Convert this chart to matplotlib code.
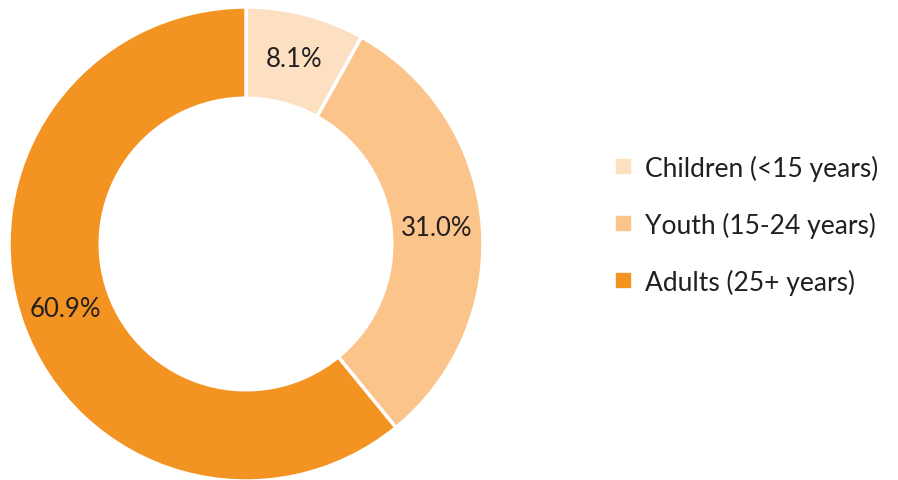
import matplotlib.pyplot as plt
from matplotlib.lines import Line2D
import numpy as np

plt.rcParams['font.family'] = ['Lato', 'DejaVu Sans']

labels = ['Children (<15 years)', 'Youth (15-24 years)', 'Adults (25+ years)']
shares = [8.1, 31.0, 60.9]
colors = ['#FDDFC2', '#FBC48B', '#F39322']

fig = plt.figure(figsize=(8.98, 4.81), dpi=100)
ax = fig.add_axes([9 / 898, -1 / 481, 474 / 898, 474 / 481])

wedges, texts = ax.pie(shares, colors=colors, startangle=90, counterclock=False,
                       radius=1, wedgeprops=dict(width=0.385, edgecolor='white', linewidth=2.5))

# percentage labels in the middle of the ring
ang = 90 - np.cumsum([0] + shares[:-1]) * 3.6 - np.array(shares) * 1.8
r = 0.808
for a, s in zip(ang, shares):
    ax.text(r * np.cos(np.radians(a)), r * np.sin(np.radians(a)), f'{s:.1f}%',
            ha='center', va='center', fontsize=18.5, color='#231F20')
ax.set_xlim(-1, 1)
ax.set_ylim(-1, 1)
ax.set_aspect('equal')
ax.axis('off')

handles = [Line2D([], [], marker='s', linestyle='none', markersize=10,
                  markerfacecolor=c, markeredgecolor=c) for c in colors]
fig.legend(handles, labels, loc='center left', bbox_to_anchor=(0.659, 0.531),
           frameon=False, fontsize=19, labelspacing=1.17, handletextpad=0.52,
           handlelength=0.6, labelcolor='#231F20')

fig.savefig('out.png', dpi=100)
